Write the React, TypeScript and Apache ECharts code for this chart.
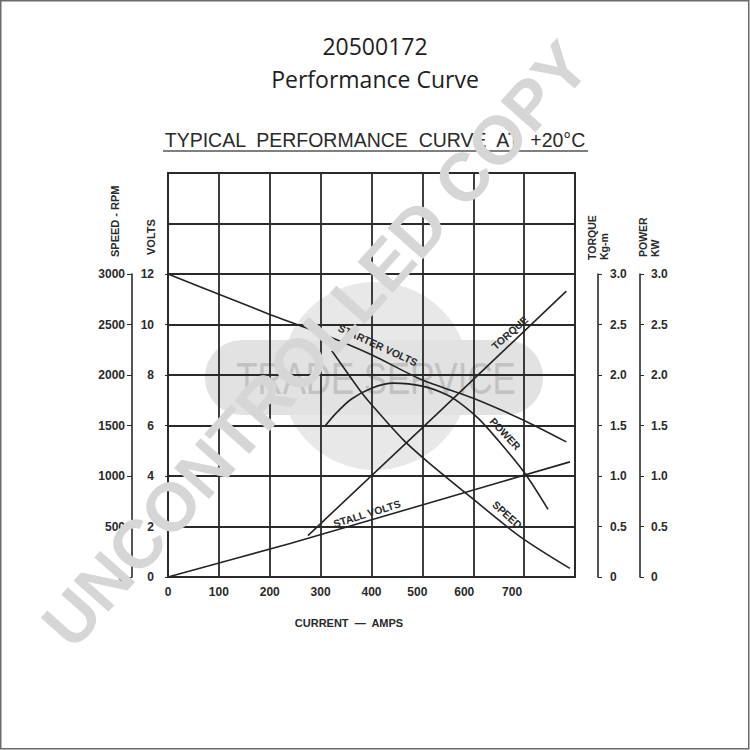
import React, { useEffect, useRef } from "react";
import * as echarts from "echarts";

// ---- data ----
const currentTicks = [0, 100, 200, 300, 400, 500, 600, 700];
const starterCurrent = [0, 100, 200, 300, 400, 500, 600, 700, 783];
const starterVolts = [12, 11.2, 10.4, 9.65, 8.8, 7.8, 7.08, 6.2, 5.35];
const stallCurrent = [0, 240, 530, 790];
const stallVolts = [0, 1.33, 3.03, 4.56];
const speedCurrent = [322, 377, 403, 462, 514, 600, 692, 790];
const speedRpm = [2240, 1850, 1690, 1360, 1125, 770, 400, 85];
const torqueCurrent = [275, 530, 783];
const torqueKgm = [0.41, 1.62, 2.83];
const powerCurrent = [308, 330, 360, 400, 443, 500, 550, 580, 610, 646, 701, 747];
const powerKw = [1.49, 1.62, 1.76, 1.87, 1.92, 1.89, 1.8, 1.7, 1.57, 1.37, 1.03, 0.67];

const pairs = (xs: number[], ys: number[]) => xs.map((x, i) => [x, ys[i]]);

const INK = "#242424";
const LABEL_FONT = "Liberation Sans";

export default function App() {
  const ref = useRef<HTMLDivElement>(null);

  useEffect(() => {
    if (!ref.current) return;
    const chart = echarts.init(ref.current, undefined, { renderer: "svg" });

    const axisText = { fontFamily: LABEL_FONT, fontSize: 12, fontWeight: "bold" as const, color: "#2a2a2a" };
    const lineSeries = (name: string, data: number[][], yAxisIndex: number, smooth: number | boolean) => ({
      name,
      type: "line",
      xAxisIndex: 1,
      yAxisIndex,
      data,
      symbol: "none",
      smooth,
      lineStyle: { color: INK, width: 1.6 },
      z: 5,
    });

    const shift: Record<number, number> = { 500: 10, 600: 18, 700: 24 };
    const plain = (v: number) => String(v);
    const oneDec = (v: number) => (v === 0 ? "0" : v.toFixed(1));

    const option: any = {
      animation: false,
      grid: [
        { left: 168, right: 175, top: 173, bottom: 173, show: true, borderColor: "#2a2a2a", borderWidth: 1.8 },
        { left: 168, right: 175, top: 274, bottom: 173 },
      ],
      xAxis: [
        {
          type: "value",
          gridIndex: 0,
          min: 0,
          max: 800,
          interval: 100,
          axisLine: { show: true, lineStyle: { color: "#2a2a2a", width: 1.8 } },
          axisTick: { show: false },
          splitLine: { show: true, lineStyle: { color: "#2a2a2a", width: 1.8 } },
          axisLabel: {
            ...axisText,
            margin: 9,
            formatter: (v: number) => (currentTicks.includes(v) ? `{s${v}|${v}}` : ""),
            rich: Object.fromEntries(
              currentTicks.map((v) => [`s${v}`, { ...axisText, padding: [0, shift[v] || 0, 0, 0] }])
            ),
          },
        },
        { type: "value", gridIndex: 1, min: 0, max: 800, show: false },
      ],
      yAxis: [
        {
          type: "value",
          gridIndex: 0,
          min: 0,
          max: 8,
          interval: 1,
          axisLine: { show: true, lineStyle: { color: "#2a2a2a", width: 1.8 } },
          axisTick: { show: false },
          axisLabel: { show: false },
          splitLine: { show: true, lineStyle: { color: "#2a2a2a", width: 1.8 } },
        },
        {
          type: "value",
          gridIndex: 1,
          position: "left",
          offset: 9,
          min: 0,
          max: 12,
          interval: 2,
          axisLine: { show: true, lineStyle: { color: "#2a2a2a", width: 1.6 } },
          axisTick: { show: true, length: 3, lineStyle: { color: "#2a2a2a" } },
          axisLabel: { ...axisText, margin: 5, formatter: plain },
          splitLine: { show: false },
        },
        {
          type: "value",
          gridIndex: 1,
          position: "left",
          offset: 36,
          min: 0,
          max: 3000,
          interval: 500,
          axisLine: { show: true, lineStyle: { color: "#2a2a2a", width: 1.6 } },
          axisTick: { show: true, length: 5, lineStyle: { color: "#2a2a2a" } },
          axisLabel: { ...axisText, margin: 7, formatter: plain },
          splitLine: { show: false },
        },
        {
          type: "value",
          gridIndex: 1,
          position: "right",
          offset: 23,
          min: 0,
          max: 3,
          interval: 0.5,
          axisLine: { show: true, lineStyle: { color: "#2a2a2a", width: 1.6 } },
          axisTick: { show: true, length: 4, lineStyle: { color: "#2a2a2a" } },
          axisLabel: { ...axisText, margin: 12, formatter: oneDec },
          splitLine: { show: false },
        },
        {
          type: "value",
          gridIndex: 1,
          position: "right",
          offset: 65,
          min: 0,
          max: 3,
          interval: 0.5,
          axisLine: { show: true, lineStyle: { color: "#2a2a2a", width: 1.6 } },
          axisTick: { show: true, length: 4, lineStyle: { color: "#2a2a2a" } },
          axisLabel: { ...axisText, margin: 11, formatter: oneDec },
          splitLine: { show: false },
        },
      ],
      series: [
        lineSeries("Starter volts", pairs(starterCurrent, starterVolts), 1, 0.25),
        lineSeries("Stall volts", pairs(stallCurrent, stallVolts), 1, 0.2),
        lineSeries("Speed", pairs(speedCurrent, speedRpm), 2, 0.3),
        lineSeries("Torque", pairs(torqueCurrent, torqueKgm), 3, false),
        lineSeries("Power", pairs(powerCurrent, powerKw), 4, 0.3),
      ],
      graphic: [
        // frame
        { type: "rect", z: 50, shape: { x: 0.75, y: 0.75, width: 748, height: 748 }, style: { fill: "none", stroke: "#6a6a6a", lineWidth: 1.5 } },
        // trade service logo (behind)
        { type: "circle", z: -10, shape: { cx: 375, cy: 376, r: 94 }, style: { fill: "#e8e8e8" } },
        { type: "rect", z: -10, shape: { x: 205, y: 340, width: 338, height: 75, r: 37 }, style: { fill: "#e2e2e2" } },
        {
          type: "text", z: -9, x: 376, y: 378, scaleX: 0.79,
          style: { text: "TRADE SERVICE", fontFamily: "Liberation Sans", fontSize: 44, fill: "#c2c2c2", align: "center", verticalAlign: "middle" },
        },
        // titles
        { type: "text", x: 375, y: 46, style: { text: "20500172", fontFamily: "Open Sans", fontSize: 23, fill: "#1e1e1e", align: "center", verticalAlign: "middle" } },
        { type: "text", x: 375, y: 79, style: { text: "Performance Curve", fontFamily: "Open Sans", fontSize: 23, fill: "#1e1e1e", align: "center", verticalAlign: "middle" } },
        { type: "text", x: 375, y: 140, style: { text: "TYPICAL  PERFORMANCE  CURVE  AT  +20°C", fontFamily: "Liberation Sans", fontSize: 19.5, fill: "#2a2a2a", align: "center", verticalAlign: "middle" } },
        { type: "line", shape: { x1: 163, y1: 151, x2: 588, y2: 151 }, style: { stroke: "#555", lineWidth: 1.5 } },
        // axis titles
        { type: "text", x: 349, y: 623, style: { text: "CURRENT  —  AMPS", fontFamily: LABEL_FONT, fontSize: 11, fontWeight: "bold", fill: "#2a2a2a", align: "center", verticalAlign: "middle" } },
        { type: "text", x: 115, y: 257, rotation: Math.PI / 2, style: { text: "SPEED - RPM", fontFamily: LABEL_FONT, fontSize: 11, fontWeight: "bold", fill: "#2a2a2a", align: "left", verticalAlign: "middle" } },
        { type: "text", x: 151, y: 255, rotation: Math.PI / 2, style: { text: "VOLTS", fontFamily: LABEL_FONT, fontSize: 11, fontWeight: "bold", fill: "#2a2a2a", align: "left", verticalAlign: "middle" } },
        { type: "text", x: 592, y: 260, rotation: Math.PI / 2, style: { text: "TORQUE", fontFamily: LABEL_FONT, fontSize: 10.5, fontWeight: "bold", fill: "#2a2a2a", align: "left", verticalAlign: "middle" } },
        { type: "text", x: 604, y: 260, rotation: Math.PI / 2, style: { text: "Kg-m", fontFamily: LABEL_FONT, fontSize: 10.5, fontWeight: "bold", fill: "#2a2a2a", align: "left", verticalAlign: "middle" } },
        { type: "text", x: 643, y: 257, rotation: Math.PI / 2, style: { text: "POWER", fontFamily: LABEL_FONT, fontSize: 10.5, fontWeight: "bold", fill: "#2a2a2a", align: "left", verticalAlign: "middle" } },
        { type: "text", x: 655, y: 257, rotation: Math.PI / 2, style: { text: "KW", fontFamily: LABEL_FONT, fontSize: 10.5, fontWeight: "bold", fill: "#2a2a2a", align: "left", verticalAlign: "middle" } },
        // curve labels
        { type: "text", x: 378, y: 345, rotation: -0.43, z: 6, style: { text: "STARTER VOLTS", fontFamily: LABEL_FONT, fontSize: 10.5, fontWeight: "bold", fill: "#2a2a2a", align: "center", verticalAlign: "middle" } },
        { type: "text", x: 510, y: 333, rotation: 0.73, z: 6, style: { text: "TORQUE", fontFamily: LABEL_FONT, fontSize: 10.5, fontWeight: "bold", fill: "#2a2a2a", align: "center", verticalAlign: "middle" } },
        { type: "text", x: 505, y: 434, rotation: -0.82, z: 6, style: { text: "POWER", fontFamily: LABEL_FONT, fontSize: 10.5, fontWeight: "bold", fill: "#2a2a2a", align: "center", verticalAlign: "middle" } },
        { type: "text", x: 507, y: 515, rotation: -0.73, z: 6, style: { text: "SPEED", fontFamily: LABEL_FONT, fontSize: 10.5, fontWeight: "bold", fill: "#2a2a2a", align: "center", verticalAlign: "middle" } },
        { type: "text", x: 367, y: 514, rotation: 0.3, z: 6, style: { text: "STALL VOLTS", fontFamily: LABEL_FONT, fontSize: 10.5, fontWeight: "bold", fill: "#2a2a2a", align: "center", verticalAlign: "middle" } },
        // watermark (on top)
        {
          type: "text", z: 40, x: 315, y: 344, rotation: 0.843,
          style: { text: "UNCONTROLLED COPY", fontFamily: "Liberation Sans", fontWeight: "bold", fontSize: 68, fill: "#d6d6d6", align: "center", verticalAlign: "middle" },
        },
      ],
    };

    chart.setOption(option);
    return () => chart.dispose();
  }, []);

  return (
    <div
      ref={ref}
      style={{ position: "fixed", left: 0, top: 0, width: 750, height: 750, background: "#fff" }}
    />
  );
}
